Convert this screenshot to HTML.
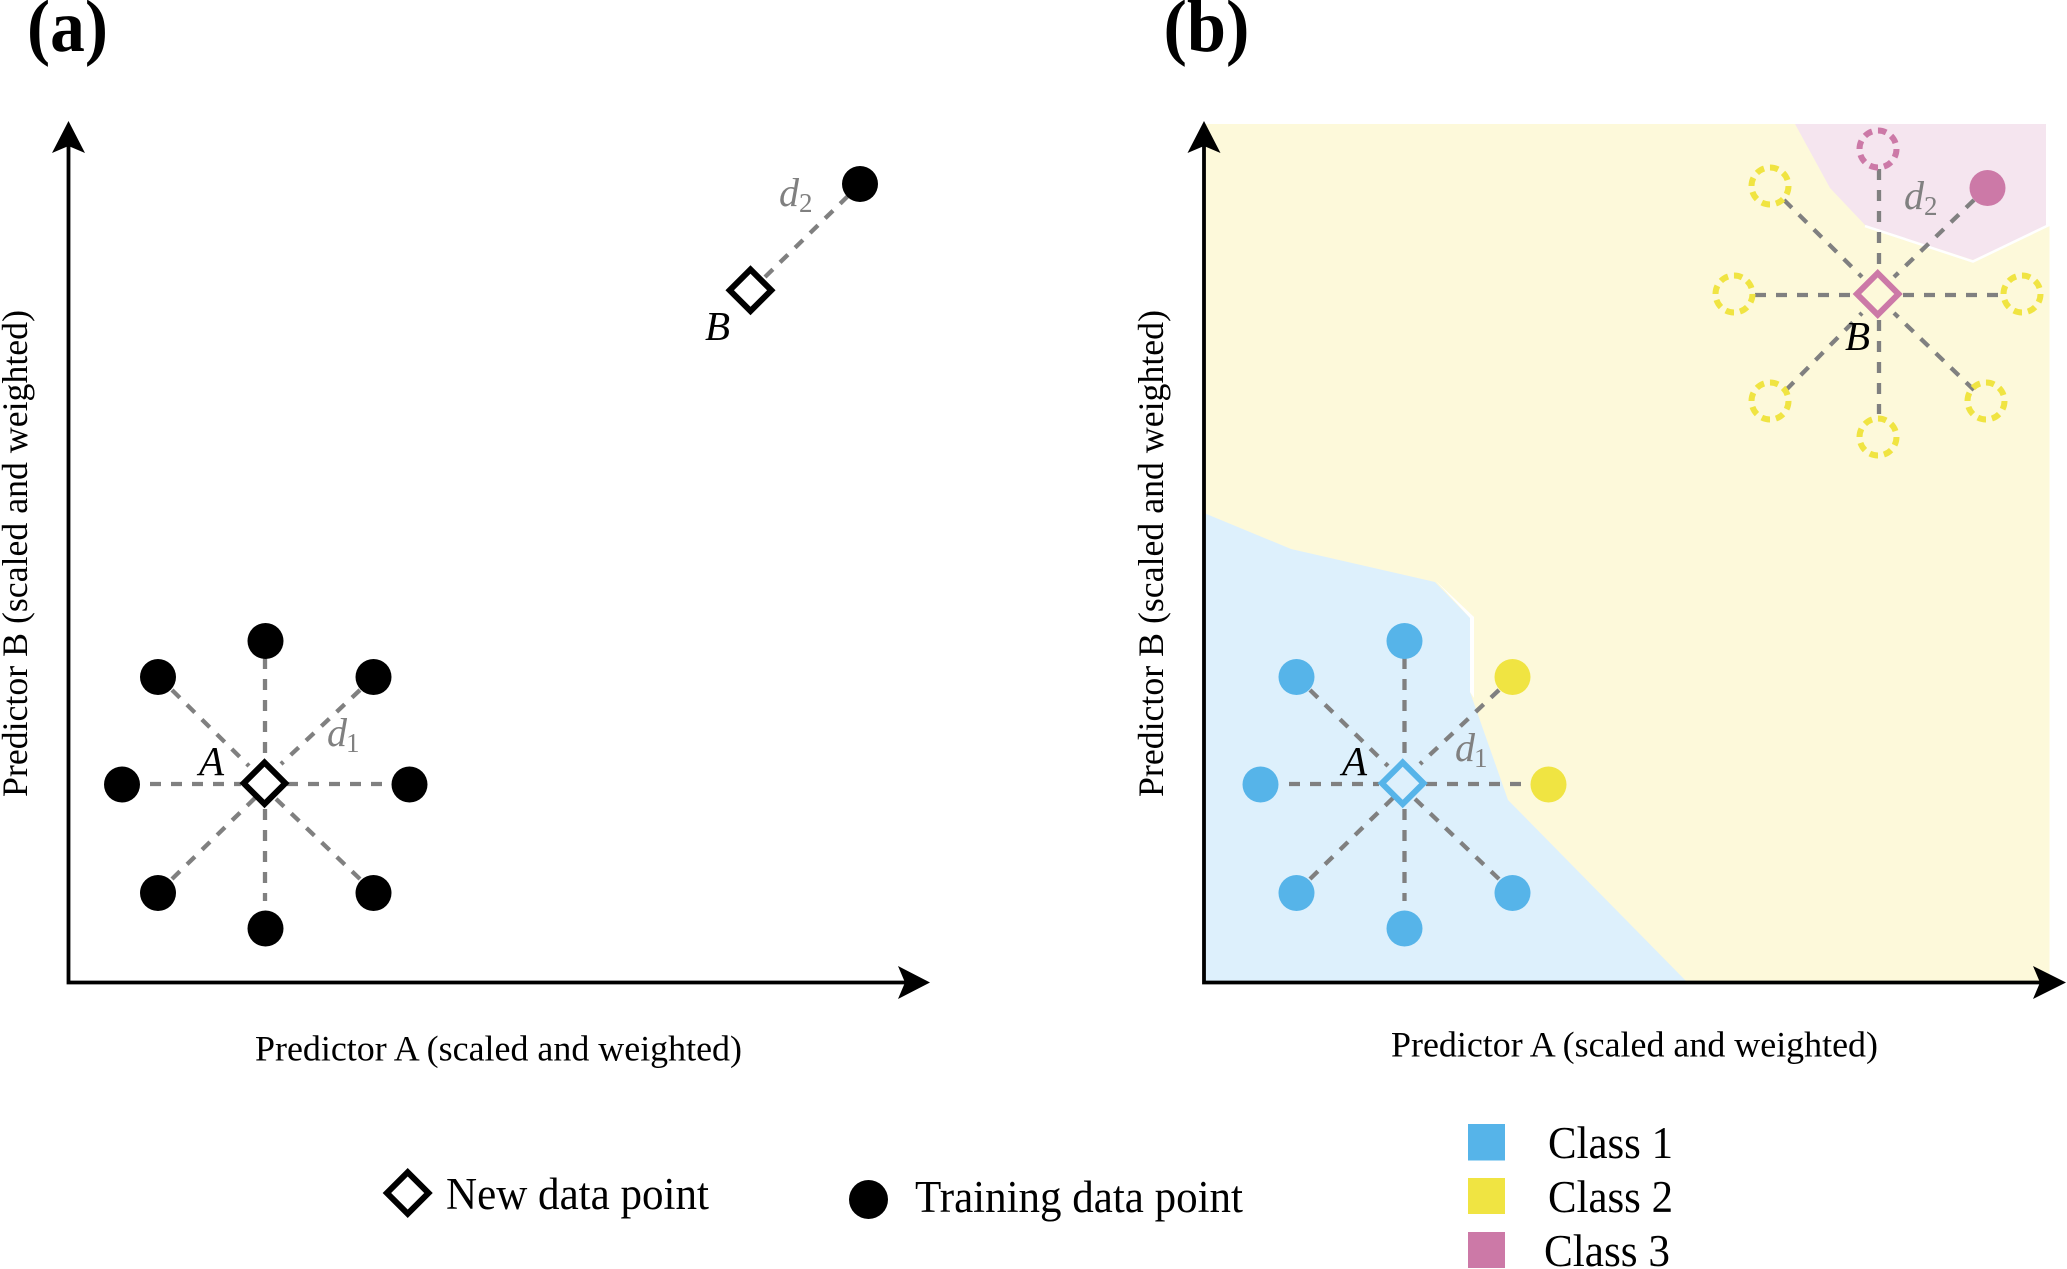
<!DOCTYPE html>
<html><head><meta charset="utf-8"><style>
html,body{margin:0;padding:0;background:#fff}
svg{display:block}
text{font-family:"Liberation Serif",serif}
.d{fill:#808080;font-style:italic;font-size:40px}
.ds{fill:#808080;font-size:27px}
.m{fill:#000;font-style:italic;font-size:41px}
.l{fill:#000;font-size:35.5px}
.g{fill:#000;font-size:45px}
.t{fill:#000;font-size:74px;font-weight:bold}
.dash{stroke:#808080;stroke-width:4.3;stroke-dasharray:11 10;fill:none}
.ax{stroke:#000;stroke-width:3.8;fill:none}
.ring{fill:none;stroke-width:6;stroke-dasharray:8.5 6}
</style></head><body>
<svg width="2067" height="1269" viewBox="0 0 2067 1269" xmlns="http://www.w3.org/2000/svg">
<rect width="2067" height="1269" fill="#fff"/>

<!-- panel b regions -->
<polygon points="1204,124 2046,124 2046,226 2049.5,226 2049.5,981 1204,981" fill="#FDF9DA"/>
<polygon points="1795,124 2046,124 2046,226 1973,260 1865,225 1830,188" fill="#F5E5EF"/>
<polyline points="1865,226 1973,261.5 2049,225" fill="none" stroke="#fff" stroke-width="2.5"/>
<polygon points="1204,513 1291,549 1435,582 1470,618 1470,692 1508,800 1686,981 1204,981" fill="#DDF0FC"/>
<polygon points="1436,581 1474,617 1474,698 1470,692 1470,618" fill="#fff"/>

<!-- panel a -->
<text class="t" x="27" y="51" textLength="81" lengthAdjust="spacingAndGlyphs">(a)</text>
<path class="ax" d="M68.5 146V982.5H905"/>
<polygon points="68.5,121 85,153 68.5,146 52,153" fill="#000"/>
<polygon points="930,982.5 898,999 905,982.5 898,966" fill="#000"/>

<g class="dash">
<path d="M265 658V758M265 809V901M150 784H241M287 784H383"/>
<path d="M172 690L249 766M360 690L281 764M172 879L255 798M360 879L275 798"/>
<path d="M765 277L848 196"/>
</g>
<g fill="#000">
<circle cx="265.5" cy="641" r="18"/><circle cx="265.5" cy="928.5" r="18"/>
<circle cx="122" cy="784.5" r="18"/><circle cx="409.5" cy="784.5" r="18"/>
<circle cx="158" cy="677" r="18"/><circle cx="373.5" cy="677" r="18"/>
<circle cx="158" cy="893" r="18"/><circle cx="373.5" cy="893" r="18"/>
<circle cx="860" cy="184" r="18"/>
</g>
<polygon points="264.5,762.5 285.3,783.3 264.5,804 243.7,783.3" fill="#fff" stroke="#000" stroke-width="6"/>
<polygon points="750.5,269.5 771.3,290.3 750.5,311 729.7,290.3" fill="#fff" stroke="#000" stroke-width="6"/>
<text class="m" x="199" y="775">A</text>
<text class="m" x="705" y="340">B</text>
<text class="d" x="327" y="746">d</text><text class="ds" x="346" y="752">1</text>
<text class="d" x="779" y="206">d</text><text class="ds" x="799" y="212">2</text>
<text class="l" x="255" y="1060.5" textLength="487" lengthAdjust="spacingAndGlyphs">Predictor A (scaled and weighted)</text>
<text class="l" transform="translate(27 797) rotate(-90)" textLength="487" lengthAdjust="spacingAndGlyphs">Predictor B (scaled and weighted)</text>

<!-- panel b -->
<text class="t" x="1163.5" y="51" textLength="86" lengthAdjust="spacingAndGlyphs">(b)</text>
<path class="ax" d="M1204 146V982.5H2040"/>
<polygon points="1204,121 1220.5,153 1204,146 1187.5,153" fill="#000"/>
<polygon points="2066,982.5 2033,999 2040,982.5 2033,966" fill="#000"/>

<g class="dash">
<path d="M1404.5 658V758M1404.5 809V901M1289 784H1379M1426 784H1522"/>
<path d="M1310 690L1388 766M1499 690L1420 764M1310 879L1393 798M1499 879L1414 798"/>
<path d="M1879 169V269M1879 320V414M1755 295H1853M1903 295H2001"/>
<path d="M1784 200L1862 277M1974 200L1894 277M1786 390L1862 313M1974 390L1894 313"/>
</g>
<g fill="#56B4E9">
<circle cx="1404.5" cy="641" r="18"/><circle cx="1404.5" cy="928.5" r="18"/>
<circle cx="1260.5" cy="784.5" r="18"/>
<circle cx="1296.5" cy="677" r="18"/>
<circle cx="1296.5" cy="893" r="18"/><circle cx="1512.5" cy="893" r="18"/>
</g>
<g fill="#F0E442">
<circle cx="1512.5" cy="677" r="18"/><circle cx="1548.5" cy="784.5" r="18"/>
</g>
<circle cx="1987.5" cy="188" r="18" fill="#CC79A7"/>
<circle class="ring" cx="1878" cy="149" r="18.5" stroke="#CC79A7"/>
<g class="ring" stroke="#F0E442">
<circle cx="1770" cy="186" r="18.5"/>
<circle cx="1734" cy="294" r="18.5"/>
<circle cx="2022" cy="294" r="18.5"/>
<circle cx="1770" cy="401" r="18.5"/>
<circle cx="1986" cy="401" r="18.5"/>
<circle cx="1878" cy="437" r="18.5"/>
</g>
<polygon points="1402.7,762.5 1423.5,783.3 1402.7,804 1381.9,783.3" fill="#DDF0FC" stroke="#56B4E9" stroke-width="6"/>
<polygon points="1877.7,273.2 1898.5,294 1877.7,314.8 1856.9,294" fill="#FDF9DA" stroke="#CC79A7" stroke-width="6"/>
<text class="m" x="1342" y="775">A</text>
<text class="m" x="1845" y="350">B</text>
<text class="d" x="1455" y="761">d</text><text class="ds" x="1474" y="767">1</text>
<text class="d" x="1904" y="209">d</text><text class="ds" x="1924" y="215">2</text>
<text class="l" x="1391" y="1056.5" textLength="487" lengthAdjust="spacingAndGlyphs">Predictor A (scaled and weighted)</text>
<text class="l" transform="translate(1163 797) rotate(-90)" textLength="487" lengthAdjust="spacingAndGlyphs">Predictor B (scaled and weighted)</text>

<!-- legend -->
<polygon points="407.7,1172.2 428.5,1193 407.7,1213.8 386.9,1193" fill="#fff" stroke="#000" stroke-width="6"/>
<text class="g" x="446" y="1209" textLength="263" lengthAdjust="spacingAndGlyphs">New data point</text>
<circle cx="868.5" cy="1199.5" r="19.5" fill="#000"/>
<text class="g" x="915" y="1212" textLength="328" lengthAdjust="spacingAndGlyphs">Training data point</text>
<rect x="1468" y="1124" width="37" height="36.5" fill="#56B4E9"/>
<rect x="1468" y="1178" width="37" height="36" fill="#F0E442"/>
<rect x="1468" y="1232" width="37" height="36" fill="#CC79A7"/>
<text class="g" x="1548" y="1158" textLength="125" lengthAdjust="spacingAndGlyphs">Class 1</text>
<text class="g" x="1548" y="1212" textLength="125" lengthAdjust="spacingAndGlyphs">Class 2</text>
<text class="g" x="1544" y="1266" textLength="126" lengthAdjust="spacingAndGlyphs">Class 3</text>
</svg>
</body></html>
